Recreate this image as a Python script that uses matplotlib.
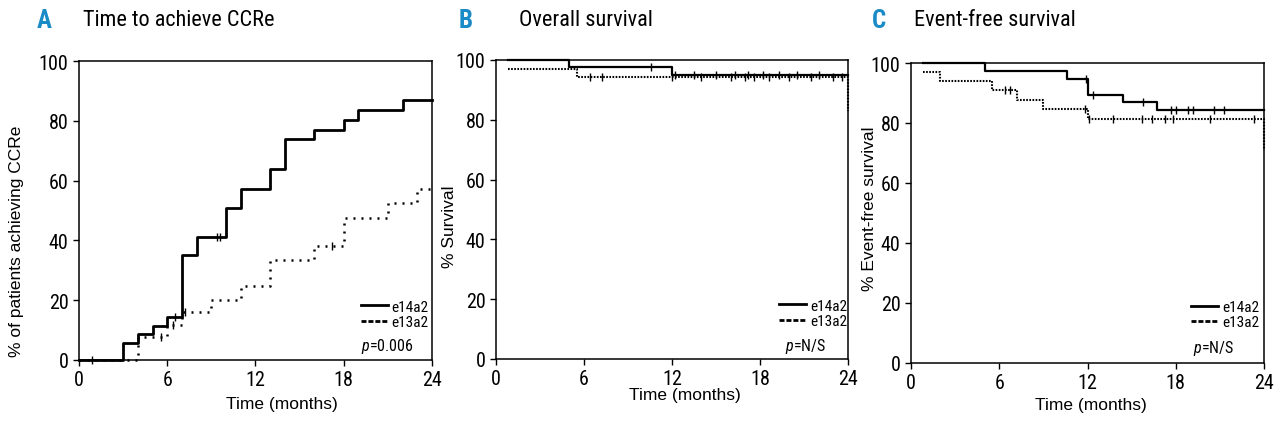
import numpy as np
import matplotlib
matplotlib.use("Agg")
import matplotlib.pyplot as plt
from matplotlib.lines import Line2D

plt.rcParams['font.family'] = ['Roboto Condensed', 'DejaVu Sans']
plt.rcParams['mathtext.fontset'] = 'custom'
plt.rcParams['mathtext.it'] = 'Roboto Condensed:italic'
plt.rcParams['mathtext.rm'] = 'Roboto Condensed'
LAB = ['Liberation Sans', 'DejaVu Sans']

W, H = 1280, 431

# panel A: time to achieve CCRe (cumulative %)
a_e14_t = [0, 3, 4, 5, 6, 7, 8, 10, 11, 13, 14, 16, 18, 19, 22, 24]
a_e14_v = [0, 5.8, 8.7, 11.4, 14.3, 35.0, 41.0, 50.7, 57.3, 63.8, 73.8, 77.0, 80.2, 83.6, 87.0, 87.0]
a_e14_cens = [6.5, 9.4, 9.6]
a_e13_t = [0, 4, 6, 7, 9, 11, 13, 16, 18, 21, 23, 24]
a_e13_v = [0, 7.6, 11.6, 15.9, 20.2, 24.7, 33.6, 38.0, 47.4, 52.4, 57.1, 57.1]
a_e13_cens = [0.9, 5.6, 6.4, 7.2, 17.2]

# panel B: overall survival
b_e14_t = [0.8, 5.0, 12.0, 24]
b_e14_v = [100, 97.8, 95.1, 95.1]
b_e14_cens = [10.6, 12.2, 13.5, 15.0, 16.3, 17.2, 18.2, 19.3, 20.5, 22.0]
b_e13_t = [0.8, 5.5, 24]
b_e13_v = [97.1, 94.3, 83.0]
b_e13_cens = [6.4, 7.2, 12.0, 14.0, 16.0, 17.0, 17.6, 18.6, 20.0, 21.5, 23.0, 23.6]

# panel C: event-free survival
c_e14_t = [0.8, 5.0, 10.6, 12.0, 14.4, 16.7, 24]
c_e14_v = [100, 97.3, 94.8, 89.4, 87.0, 84.2, 84.2]
c_e14_cens = [11.9, 12.4, 15.8, 17.7, 18.0, 18.8, 19.2, 20.6, 21.3]
c_e13_t = [0.8, 2.0, 5.5, 7.2, 9.0, 12.0, 24]
c_e13_v = [97.1, 94.0, 90.9, 87.8, 84.6, 81.2, 71.0]
c_e13_cens = [6.4, 6.7, 11.8, 12.1, 13.7, 15.7, 16.4, 17.3, 17.8, 20.3, 23.3]

xticks = [0, 6, 12, 18, 24]
yticks = [0, 20, 40, 60, 80, 100]
labels = ['e14a2', 'e13a2']

fig = plt.figure(figsize=(W / 100, H / 100), dpi=100)


def px_axes(l, r, t, b):
    return fig.add_axes([l / W, (H - b) / H, (r - l) / W, (b - t) / H])


def step_value(ts, vs, t):
    i = np.searchsorted(ts, t, side='right') - 1
    return vs[max(i, 0)]


def km(ax, ts, vs, cens, lw, ls):
    ax.step(ts, vs, where='post', color='black', lw=lw, linestyle=ls, clip_on=False)
    cy = [step_value(ts, vs, c) for c in cens]
    ax.plot(cens, cy, linestyle='none', marker='|', ms=6, mew=1.0, color='black', clip_on=False)


def style(ax, ylabel, ylab_xy, xlab_xy, leg_xy, p_xy, ptext):
    ax.set_xlim(0, 24)
    ax.set_ylim(0, 100)
    ax.set_xticks(xticks)
    ax.set_yticks(yticks)
    ax.tick_params(direction='out', length=4.5, width=1, labelsize=14.5, pad=3)
    for s in ax.spines.values():
        s.set_linewidth(1.1)
    ax.set_ylabel(ylabel, fontsize=12.5, family=LAB)
    ax.yaxis.set_label_coords(*ylab_xy)
    ax.set_xlabel('Time (months)', fontsize=12.5, family=LAB)
    ax.xaxis.set_label_coords(*xlab_xy)
    handles = [Line2D([], [], color='black', lw=2.0),
               Line2D([], [], color='black', lw=2.0, linestyle=(0, (1.8, 0.7)))]
    ax.legend(handles, labels, loc='lower right', bbox_to_anchor=leg_xy, frameon=False,
              fontsize=11, handlelength=1.75, handletextpad=0.25,
              labelspacing=0.08, borderpad=0, borderaxespad=0)
    ax.text(p_xy[0], p_xy[1], r'$p$=' + ptext, transform=ax.transAxes, fontsize=11.5,
            ha='left', va='center')


def title(xl, xt, letter, text):
    fig.text(xl / W, 1 - 21 / H, letter, color='#1a8bc6', fontsize=18, fontweight='bold',
             ha='left', va='center')
    fig.text(xt / W, 1 - 21 / H, text, fontsize=16, ha='left', va='center')


axA = px_axes(79, 432, 62, 361)
km(axA, a_e14_t, a_e14_v, a_e14_cens, 2.0, '-')
km(axA, a_e13_t, a_e13_v, a_e13_cens, 1.8, (0, (0.8, 2.4)))
style(axA, '% of patients achieving CCRe', (-0.155, 0.40), (0.575, -0.12),
      (0.99, 0.104), (0.80, 0.05), '0.006')
title(37, 83, 'A', 'Time to achieve CCRe')

axB = px_axes(496, 848, 61, 360)
km(axB, b_e14_t, b_e14_v, b_e14_cens, 1.6, '-')
km(axB, b_e13_t, b_e13_v, b_e13_cens, 1.5, (0, (0.8, 0.7)))
style(axB, '% Survival', (-0.11, 0.445), (0.537, -0.094),
      (0.997, 0.104), (0.82, 0.045), 'N/S')
title(459, 519, 'B', 'Overall survival')

axC = px_axes(911, 1264, 64, 364)
km(axC, c_e14_t, c_e14_v, c_e14_cens, 1.6, '-')
km(axC, c_e13_t, c_e13_v, c_e13_cens, 1.5, (0, (0.8, 0.7)))
style(axC, '% Event-free survival', (-0.095, 0.517), (0.51, -0.113),
      (0.986, 0.113), (0.80, 0.053), 'N/S')
title(872, 914, 'C', 'Event-free survival')

fig.savefig('out.png', dpi=100)
